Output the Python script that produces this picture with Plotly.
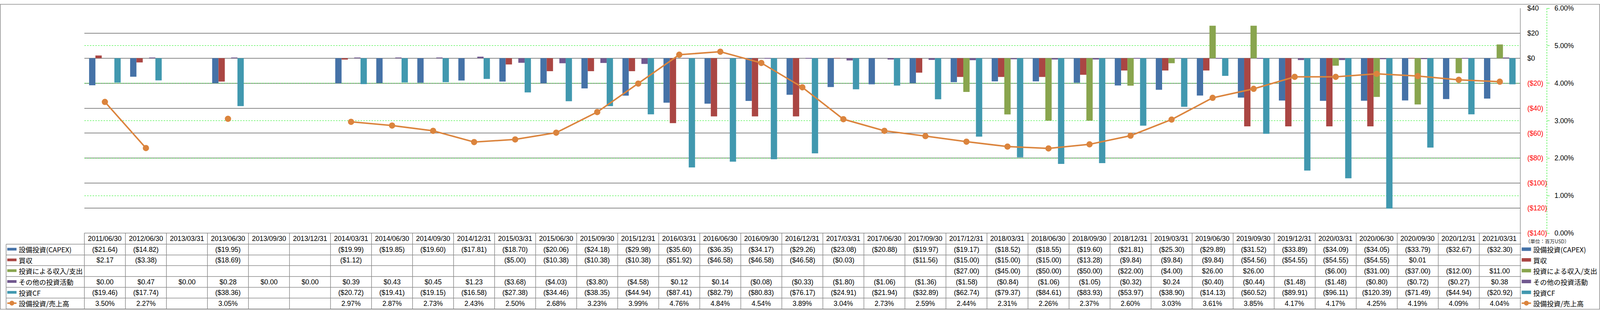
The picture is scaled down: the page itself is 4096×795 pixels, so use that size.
import plotly.graph_objects as go

# ---------------- data ----------------
dates = ["2011/06/30", "2012/06/30", "2013/03/31", "2013/06/30", "2013/09/30", "2013/12/31",
         "2014/03/31", "2014/06/30", "2014/09/30", "2014/12/31", "2015/03/31", "2015/06/30",
         "2015/09/30", "2015/12/31", "2016/03/31", "2016/06/30", "2016/09/30", "2016/12/31",
         "2017/03/31", "2017/06/30", "2017/09/30", "2017/12/31", "2018/03/31", "2018/06/30",
         "2018/09/30", "2018/12/31", "2019/03/31", "2019/06/30", "2019/09/30", "2019/12/31",
         "2020/03/31", "2020/06/30", "2020/09/30", "2020/12/31", "2021/03/31"]

capex = [-21.64, -14.82, None, -19.95, None, None, -19.99, -19.85, -19.60, -17.81, -18.70, -20.06,
         -24.18, -29.98, -35.60, -36.35, -34.17, -29.26, -23.08, -20.88, -19.97, -19.17, -18.52, -18.55,
         -19.60, -21.81, -25.30, -29.89, -31.52, -33.89, -34.09, -34.05, -33.79, -32.67, -32.30]

acquisition = [2.17, -3.38, None, -18.69, None, None, -1.12, None, None, None, -5.00, -10.38,
               -10.38, -10.38, -51.92, -46.58, -46.58, -46.58, -0.03, None, -11.56, -15.00, -15.00, -15.00,
               -13.28, -9.84, -9.84, -9.84, -54.56, -54.55, -54.55, -54.55, 0.01, None, None]

investments = [None, None, None, None, None, None, None, None, None, None, None, None,
               None, None, None, None, None, None, None, None, None, -27.00, -45.00, -50.00,
               -50.00, -22.00, -4.00, 26.00, 26.00, None, -6.00, -31.00, -37.00, -12.00, 11.00]

other = [0.00, 0.47, 0.00, 0.28, 0.00, 0.00, 0.39, 0.43, 0.45, 1.23, -3.68, -4.03,
         -3.80, -4.58, 0.12, 0.14, -0.08, -0.33, -1.80, -1.06, -1.36, -1.58, -0.84, -1.06,
         -1.05, -0.32, 0.24, -0.40, -0.44, -1.48, -1.48, -0.80, -0.72, -0.27, 0.38]

invest_cf = [-19.46, -17.74, None, -38.36, None, None, -20.72, -19.41, -19.15, -16.58, -27.38, -34.46,
             -38.35, -44.94, -87.41, -82.79, -80.83, -76.17, -24.91, -21.94, -32.89, -62.74, -79.37, -84.61,
             -83.93, -53.97, -38.90, -14.13, -60.52, -89.91, -96.11, -120.39, -71.49, -44.94, -20.92]

capex_ratio = [3.50, 2.27, None, 3.05, None, None, 2.97, 2.87, 2.73, 2.43, 2.50, 2.68,
               3.23, 3.99, 4.76, 4.84, 4.54, 3.89, 3.04, 2.73, 2.59, 2.44, 2.31, 2.26,
               2.37, 2.60, 3.03, 3.61, 3.85, 4.17, 4.17, 4.25, 4.19, 4.09, 4.04]

series_names = ["設備投資(CAPEX)", "買収", "投資による収入/支出", "その他の投資活動", "投資CF", "設備投資/売上高"]
series_colors = ["#4572A7", "#AA4643", "#89A54E", "#71588F", "#4198AF", "#DB843D"]

dollar_ticks = [40, 20, 0, -20, -40, -60, -80, -100, -120, -140]
pct_ticks = [0, 1, 2, 3, 4, 5, 6]
unit_label = "（単位：百万USD）"

# ---------------- layout geometry ----------------
W, H = 4096, 795
L, R, T, B = 216, 40, 11, 199
PW = W - L - R
PH = H - T - B
plot_right = 3892
xdom = (plot_right - L) / PW


def px(xp):
    return (xp - L) / PW


def py(yp):
    return (H - B - yp) / PH


FONT = "Liberation Sans, Noto Sans CJK JP, sans-serif"
JFONT = "Noto Sans CJK JP, Liberation Sans, sans-serif"
GRAY = "#8a8a8a"
GREEN = "#22ee22"

idx = list(range(len(dates)))

fig = go.Figure()
bar_series = [capex, acquisition, investments, other, invest_cf]
for name, vals, col in zip(series_names[:5], bar_series, series_colors[:5]):
    fig.add_trace(go.Bar(x=idx, y=vals, name=name, marker=dict(color=col, line=dict(width=0)),
                         yaxis="y"))

fig.add_trace(go.Scatter(x=idx, y=capex_ratio, name=series_names[5], yaxis="y3",
                         mode="lines+markers", connectgaps=False,
                         line=dict(color=series_colors[5], width=3.8),
                         marker=dict(color=series_colors[5], size=16)))


def fmt_dollar(v, dec=2):
    if v is None:
        return ""
    if v < 0:
        return "($%.*f)" % (dec, -v)
    return "$%.*f" % (dec, v)


def fmt_pct(v):
    return "" if v is None else "%.2f%%" % v


dollar_text = []
for t in dollar_ticks:
    s = fmt_dollar(t, 0)
    if t < 0:
        s = '<span style="color:#ff0000">%s</span>' % s
    dollar_text.append(s)

fig.update_layout(
    width=W, height=H,
    margin=dict(l=L, r=R, t=T, b=B, pad=0),
    paper_bgcolor="white", plot_bgcolor="white",
    showlegend=False,
    barmode="group", bargap=0.23, bargroupgap=0,
    font=dict(family=FONT, size=17.5, color="#000000"),
    xaxis=dict(domain=[0, xdom], range=[-0.5, len(dates) - 0.5], showticklabels=False,
               showgrid=False, zeroline=False, ticks="", showline=False, fixedrange=True),
    yaxis=dict(range=[-140, 40], side="right", tickvals=dollar_ticks, ticktext=dollar_text,
               showgrid=True, gridcolor=GRAY, gridwidth=1.5, zeroline=False, ticks="",
               showline=False, ticklabelstandoff=17, tickfont=dict(size=17.5, family=FONT)),
    yaxis3=dict(range=[0, 6], overlaying="y", side="right", anchor="free", position=px(3960),
                tickvals=pct_ticks, ticktext=["%.2f%%" % v for v in pct_ticks],
                showgrid=True, gridcolor=GREEN, gridwidth=1, griddash="4px,3px",
                zeroline=False, showline=False, ticks="outside", ticklen=6, tickwidth=1,
                tickcolor=GREEN, ticklabelstandoff=9, tickfont=dict(size=17.5, family=FONT)),
)

shapes = []
line_style = dict(color=GRAY, width=1.5)

# outer frame
shapes.append(dict(type="rect", xref="paper", yref="paper", x0=px(0.8), x1=px(4095), y0=py(0.8), y1=py(794),
                   line=line_style, fillcolor="rgba(0,0,0,0)", layer="above"))
# plot right border
shapes.append(dict(type="line", xref="paper", yref="paper", x0=xdom, x1=xdom, y0=py(T), y1=0, line=line_style))
# percent axis dotted line
shapes.append(dict(type="line", xref="paper", yref="paper", x0=px(3960), x1=px(3960), y0=1, y1=0,
                   line=dict(color=GREEN, width=1.2, dash="4px,3px")))

# table geometry (px)
row_edges = [595.8, 624.8, 652.6, 680.4, 708.6, 736.8, 765.0, 793.2]
label_left = 15.6
n = len(dates)
for k in range(n + 1):
    xk = k / n * xdom
    shapes.append(dict(type="line", xref="paper", yref="paper", x0=xk, x1=xk,
                       y0=py(row_edges[0]), y1=py(row_edges[-1]), line=line_style))
shapes.append(dict(type="line", xref="paper", yref="paper", x0=0, x1=xdom,
                   y0=py(row_edges[0]), y1=py(row_edges[0]), line=line_style))
for ry in row_edges[1:]:
    shapes.append(dict(type="line", xref="paper", yref="paper", x0=px(label_left), x1=xdom,
                       y0=py(ry), y1=py(ry), line=line_style))
shapes.append(dict(type="line", xref="paper", yref="paper", x0=px(label_left), x1=px(label_left),
                   y0=py(row_edges[1]), y1=py(row_edges[-1]), line=line_style))
# right side stubs of row lines into legend area
for ry in row_edges:
    shapes.append(dict(type="line", xref="paper", yref="paper", x0=xdom, x1=px(3894),
                       y0=py(ry), y1=py(ry), line=line_style))

annotations = []
row_centers = [(row_edges[i] + row_edges[i + 1]) / 2 for i in range(len(row_edges) - 1)]

# header
for i, d in enumerate(dates):
    annotations.append(dict(x=i, xref="x", y=py(row_centers[0]), yref="paper", text=d, showarrow=False,
                            xanchor="center", yanchor="middle", font=dict(size=17.5, family=FONT)))

table_rows = [[fmt_dollar(v) for v in capex],
              [fmt_dollar(v) for v in acquisition],
              [fmt_dollar(v) for v in investments],
              [fmt_dollar(v) for v in other],
              [fmt_dollar(v) for v in invest_cf],
              [fmt_pct(v) for v in capex_ratio]]

for r, texts in enumerate(table_rows):
    yc = py(row_centers[r + 1])
    for i, s in enumerate(texts):
        if s:
            annotations.append(dict(x=i, xref="x", y=yc, yref="paper", text=s, showarrow=False,
                                    xanchor="center", yanchor="middle", font=dict(size=17.5, family=FONT)))


def add_key(x0, x1, yc, color, is_line, h):
    if is_line:
        shapes.append(dict(type="line", xref="paper", yref="paper", x0=px(x0), x1=px(x1),
                           y0=py(yc), y1=py(yc), line=dict(color=color, width=3.7)))
        cx = (x0 + x1) / 2
        rr = 6.3
        shapes.append(dict(type="circle", xref="paper", yref="paper", x0=px(cx - rr), x1=px(cx + rr),
                           y0=py(yc + rr), y1=py(yc - rr), fillcolor=color, line=dict(width=0)))
    else:
        shapes.append(dict(type="rect", xref="paper", yref="paper", x0=px(x0), x1=px(x1),
                           y0=py(yc + h / 2), y1=py(yc - h / 2), fillcolor=color, line=dict(width=0)))


# left labels & right legend
for r, (name, col) in enumerate(zip(series_names, series_colors)):
    yc = row_centers[r + 1]
    is_line = (r == 5)
    add_key(18.5, 42.3, yc - 1, col, is_line, 7)
    annotations.append(dict(x=px(45.5), xref="paper", y=py(yc), yref="paper", text=name, showarrow=False,
                            xanchor="left", yanchor="middle", font=dict(size=17.5, family=JFONT)))
    add_key(3895.5, 3919.5, yc - 1, col, is_line, 9)
    annotations.append(dict(x=px(3922.5), xref="paper", y=py(yc), yref="paper", text=name, showarrow=False,
                            xanchor="left", yanchor="middle", font=dict(size=17.5, family=JFONT)))

annotations.append(dict(x=px(3903), xref="paper", y=py(616.5), yref="paper", text=unit_label,
                        showarrow=False, xanchor="left", yanchor="middle",
                        font=dict(size=12.5, family=JFONT, color="#222222")))

fig.update_layout(shapes=shapes, annotations=annotations)

fig.write_html("out.html", config={"displayModeBar": False},
               post_script="document.body.style.margin='0';document.body.style.overflow='hidden';")
